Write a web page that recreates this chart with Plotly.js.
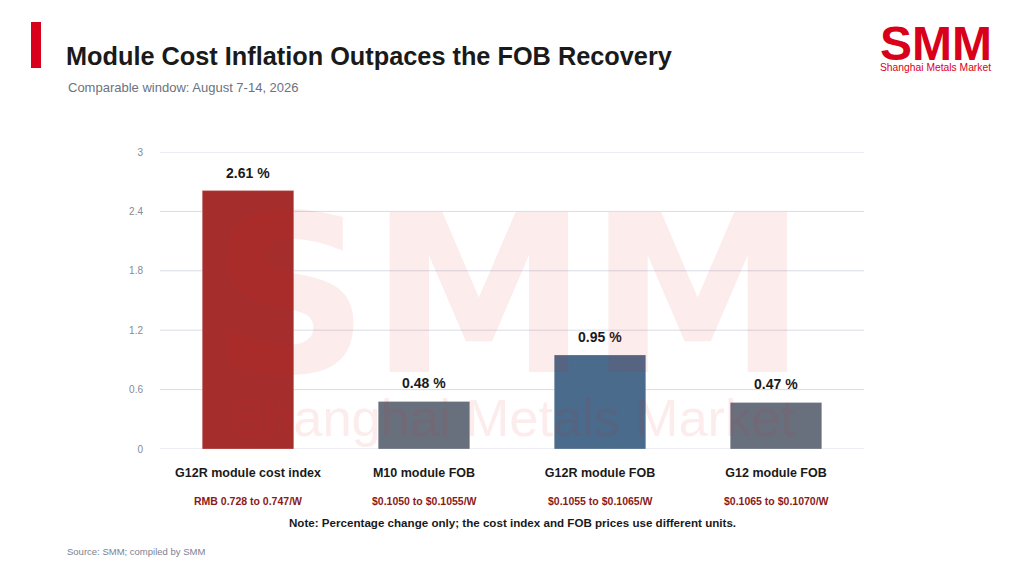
<!DOCTYPE html>
<html>
<head>
<meta charset="utf-8">
<script src="https://cdn.plot.ly/plotly-3.0.1.min.js"></script>
<style>
  html, body { margin: 0; padding: 0; background: #ffffff; }
  #chart { width: 1024px; height: 576px; }
</style>
</head>
<body>
<div id="chart"></div>
<script>
// chart values
const categories = ['G12R module cost index', 'M10 module FOB', 'G12R module FOB', 'G12 module FOB'];
const changePct = [2.61, 0.48, 0.95, 0.47];
const priceRanges = ['RMB 0.728 to 0.747/W', '$0.1050 to $0.1055/W', '$0.1055 to $0.1065/W', '$0.1065 to $0.1070/W'];
const barColors = ['#a52d2c', '#68707e', '#4a6b8b', '#68707e'];
const yTicks = [0, 0.6, 1.2, 1.8, 2.4, 3];

const FONT = 'Liberation Sans, Arial, sans-serif';

window.onload = () => {
    const bars = {
        type: 'bar',
        x: categories,
        y: changePct,
        marker: {
            color: barColors,
            line: { color: 'rgba(255,255,255,0.25)', width: 1 }
        },
        hoverinfo: 'skip'
    };

    // value labels above each bar
    const valueLabels = categories.map((c, i) => ({
        x: c, y: changePct[i], xref: 'x', yref: 'y',
        text: '<b>' + changePct[i].toFixed(2) + ' %</b>',
        showarrow: false, yanchor: 'bottom', yshift: 8,
        font: { family: FONT, size: 14, color: '#1a1a1a' }
    }));

    // price range line under each category
    const rangeLabels = categories.map((c, i) => ({
        x: c, y: -0.175, xref: 'x', yref: 'paper',
        text: '<b>' + priceRanges[i] + '</b>',
        showarrow: false, yanchor: 'middle',
        font: { family: FONT, size: 10.5, color: '#8b1a1a' }
    }));

    // grid lines, including the ones on the plot edges
    const gridLines = yTicks.map((v) => ({
        type: 'line', xref: 'paper', yref: 'y',
        x0: 0, x1: 1, y0: v, y1: v,
        line: { color: '#d8dce6', width: 1 },
        layer: 'below'
    }));

    const textAnn = [
        // watermark
        {
            x: 0.496, y: 0.515, xref: 'paper', yref: 'paper', xanchor: 'center', yanchor: 'middle',
            text: '<b>SMM</b>', showarrow: false,
            font: { family: 'DejaVu Sans, sans-serif', size: 220, color: 'rgba(215,30,40,0.085)' }
        },
        {
            x: 0.5, y: 0.105, xref: 'paper', yref: 'paper', xanchor: 'center', yanchor: 'middle',
            text: 'Shanghai Metals Market', showarrow: false,
            font: { family: FONT, size: 52.5, color: 'rgba(215,30,40,0.085)' }
        },
        // header
        {
            x: -0.1364, y: 1.3232, xref: 'paper', yref: 'paper', xanchor: 'left', yanchor: 'middle',
            text: '<b>Module Cost Inflation Outpaces the FOB Recovery</b>', showarrow: false,
            font: { family: FONT, size: 25.3, color: '#1a1a1a' }
        },
        {
            x: -0.1335, y: 1.2155, xref: 'paper', yref: 'paper', xanchor: 'left', yanchor: 'middle',
            text: 'Comparable window: August 7-14, 2026', showarrow: false,
            font: { family: FONT, size: 13, color: '#6b7280' }
        },
        // logo
        {
            x: 1.0199, y: 1.367, xref: 'paper', yref: 'paper', xanchor: 'left', yanchor: 'middle',
            text: '<b>SMM</b>', showarrow: false,
            font: { family: FONT, size: 48, color: '#d9001b' }
        },
        {
            x: 1.0199, y: 1.286, xref: 'paper', yref: 'paper', xanchor: 'left', yanchor: 'middle',
            text: 'Shanghai Metals Market', showarrow: false,
            font: { family: FONT, size: 10.3, color: '#d9001b' }
        },
        // note and source
        {
            x: 0.5, y: -0.2458, xref: 'paper', yref: 'paper', xanchor: 'center', yanchor: 'middle',
            text: '<b>Note: Percentage change only; the cost index and FOB prices use different units.</b>',
            showarrow: false,
            font: { family: FONT, size: 11.6, color: '#1a1a1a' }
        },
        {
            x: -0.1349, y: -0.3467, xref: 'paper', yref: 'paper', xanchor: 'left', yanchor: 'middle',
            text: 'Source: SMM; compiled by SMM', showarrow: false,
            font: { family: FONT, size: 9.5, color: '#7d8290' }
        }
    ];

    const layout = {
        width: 1024,
        height: 576,
        margin: { l: 160, r: 160, t: 152, b: 127, pad: 0 },
        paper_bgcolor: '#ffffff',
        plot_bgcolor: '#ffffff',
        showlegend: false,
        bargap: 0.48,
        font: { family: FONT },
        xaxis: {
            type: 'category',
            showgrid: false,
            zeroline: false,
            showline: false,
            ticks: 'outside',
            ticklen: 12,
            tickcolor: 'rgba(0,0,0,0)',
            tickfont: { family: FONT, size: 12.5, color: '#1a1a1a', weight: 'bold' },
            fixedrange: true
        },
        yaxis: {
            range: [0, 3],
            tickvals: yTicks,
            ticktext: yTicks.map(String),
            showgrid: false,
            zeroline: false,
            showline: false,
            ticks: 'outside',
            ticklen: 14,
            tickcolor: 'rgba(0,0,0,0)',
            tickfont: { family: FONT, size: 10, color: '#858a96' },
            fixedrange: true
        },
        shapes: gridLines.concat([
            {
                type: 'rect', xref: 'paper', yref: 'paper',
                x0: -0.1832, x1: -0.169, y0: 1.2828, y1: 1.4377,
                fillcolor: '#d9001b', line: { width: 0 }
            }
        ]),
        annotations: valueLabels.concat(rangeLabels, textAnn)
    };

    Plotly.newPlot('chart', [bars], layout, { displayModeBar: false, staticPlot: true });
};
</script>
</body>
</html>
